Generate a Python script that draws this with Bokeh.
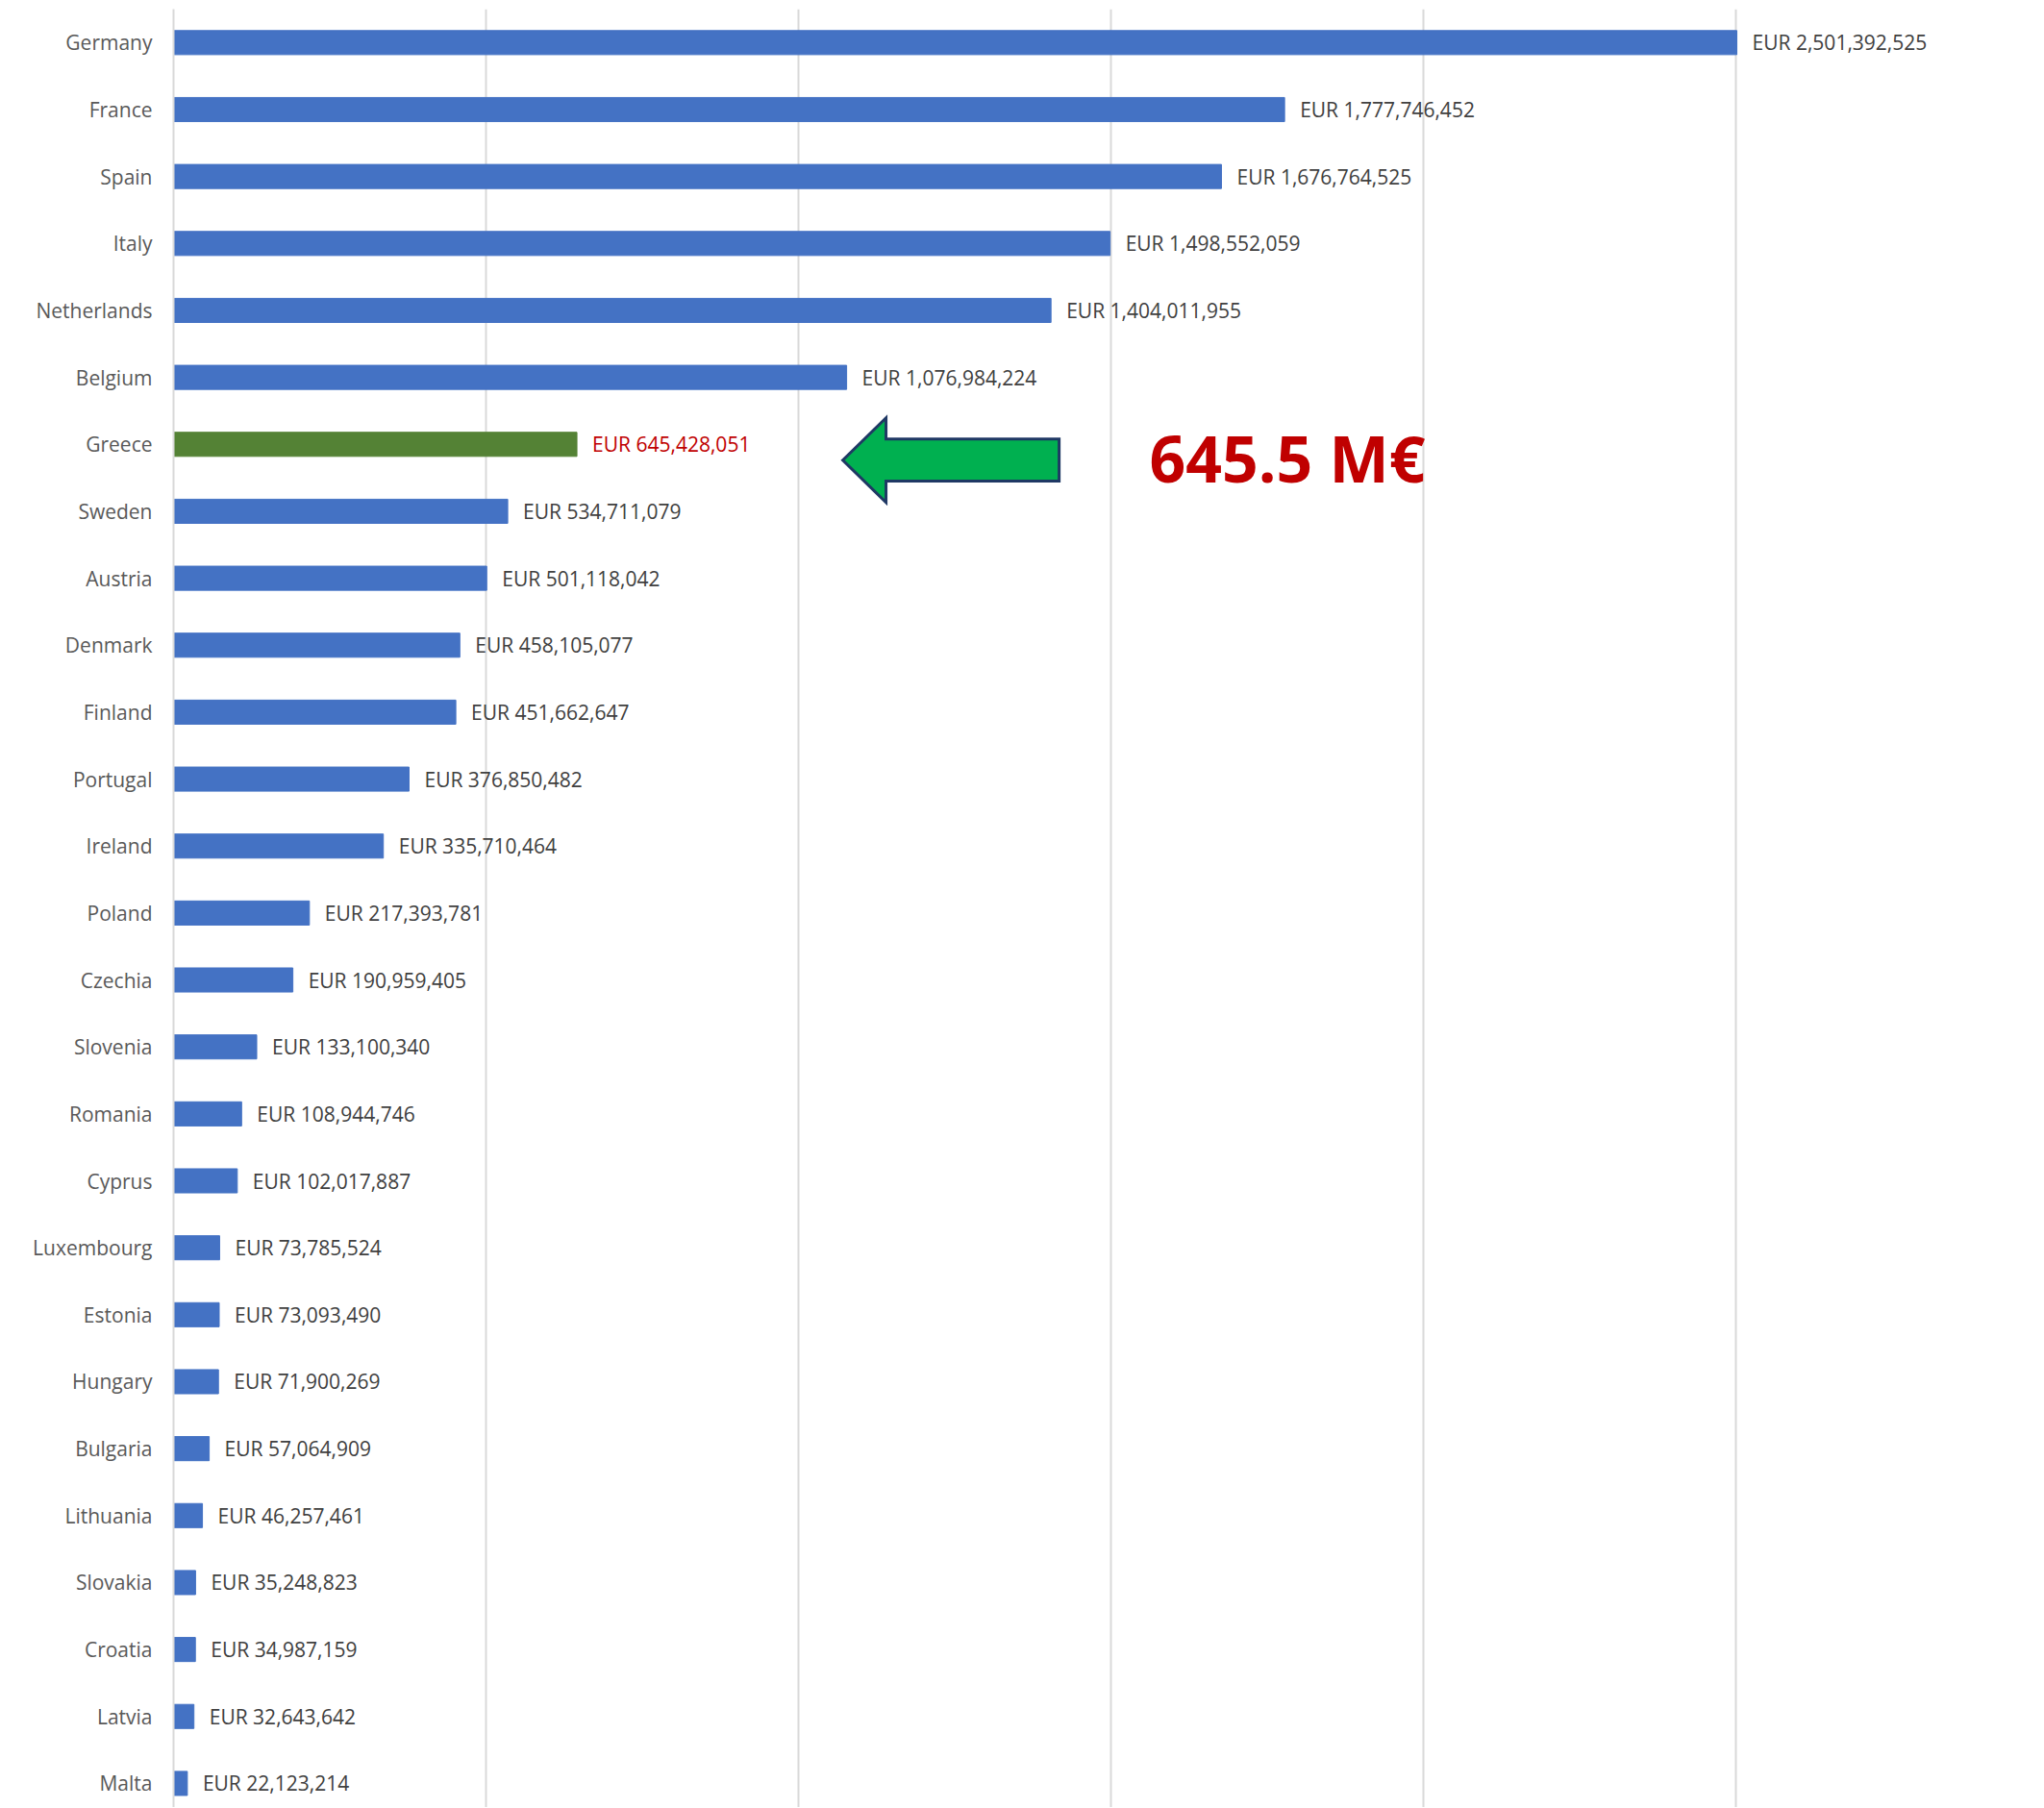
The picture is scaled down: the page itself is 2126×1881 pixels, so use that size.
from bokeh.plotting import figure
from bokeh.models import ColumnDataSource, FixedTicker, Range1d
from bokeh.core.properties import value
from bokeh.embed import file_html
from bokeh.resources import INLINE

countries = ["Germany", "France", "Spain", "Italy", "Netherlands", "Belgium", "Greece",
             "Sweden", "Austria", "Denmark", "Finland", "Portugal", "Ireland", "Poland",
             "Czechia", "Slovenia", "Romania", "Cyprus", "Luxembourg", "Estonia", "Hungary",
             "Bulgaria", "Lithuania", "Slovakia", "Croatia", "Latvia", "Malta"]
amounts = [2501392525, 1777746452, 1676764525, 1498552059, 1404011955, 1076984224, 645428051,
           534711079, 501118042, 458105077, 451662647, 376850482, 335710464, 217393781,
           190959405, 133100340, 108944746, 102017887, 73785524, 73093490, 71900269,
           57064909, 46257461, 35248823, 34987159, 32643642, 22123214]
highlight = "Greece"
callout_text = "645.5 M€"
grid_ticks = [0, 500000000, 1000000000, 1500000000, 2000000000, 2500000000]

FONT = "Open Sans"
BLUE = "#4472C4"
GREEN = "#548235"
RED = "#C00000"

idx = list(range(len(countries)))
colors = [GREEN if c == highlight else BLUE for c in countries]
labels = ["EUR {:,}".format(v) for v in amounts]
label_colors = [RED if c == highlight else "#404040" for c in countries]

src = ColumnDataSource(dict(y=idx, v=amounts, c=colors, lab=labels, lc=label_colors))

p = figure(width=2120, height=1880, output_backend="svg", toolbar_location=None,
           x_range=Range1d(0, 2.969e9), y_range=Range1d(26.36, -0.5),
           min_border_left=180, min_border_top=9, min_border_right=10, min_border_bottom=0)
p.outline_line_color = None
p.background_fill_color = "white"

p.hbar(y="y", right="v", left=0, height=0.36, color="c", source=src)
p.text(x="v", y="y", text="lab", text_color="lc", source=src, x_offset=16,
       text_font=value(FONT), text_font_size="21px", text_baseline="middle", text_align="left")

# x axis hidden, gridlines kept
p.xaxis.visible = False
p.xaxis.ticker = FixedTicker(ticks=grid_ticks)
p.xgrid.ticker = FixedTicker(ticks=grid_ticks)
p.xgrid.grid_line_color = "#D9D9D9"
p.xgrid.grid_line_width = 2
p.ygrid.visible = False

p.yaxis.ticker = FixedTicker(ticks=idx)
p.yaxis.major_label_overrides = {i: c for i, c in enumerate(countries)}
p.yaxis.major_tick_line_color = None
p.yaxis.major_tick_out = 0
p.yaxis.major_tick_in = 0
p.yaxis.minor_tick_line_color = None
p.yaxis.axis_line_color = "#D9D9D9"
p.yaxis.axis_line_width = 2
p.yaxis.major_label_standoff = 22
p.yaxis.major_label_text_font = FONT
p.yaxis.major_label_text_font_size = "21px"
p.yaxis.major_label_text_color = "#595959"

# callout arrow pointing at the highlighted bar
gi = countries.index(highlight)
ax = [1.0708e9, 1.140e9, 1.140e9, 1.417e9, 1.417e9, 1.140e9, 1.140e9]
ay = [gi + 0.237, gi - 0.395, gi - 0.08, gi - 0.08, gi + 0.55, gi + 0.55, gi + 0.868]
p.patch(ax, ay, fill_color="#00B050", fill_alpha=1.0, line_color="#1F3864", line_width=3,
        line_join="miter")

p.text(x=[1.5615e9], y=[gi + 0.2], text=[callout_text], text_color=RED,
       text_font=value(FONT), text_font_style="bold", text_font_size="66px",
       text_baseline="middle", text_align="left")

open("out.html", "w").write(file_html(p, INLINE))
